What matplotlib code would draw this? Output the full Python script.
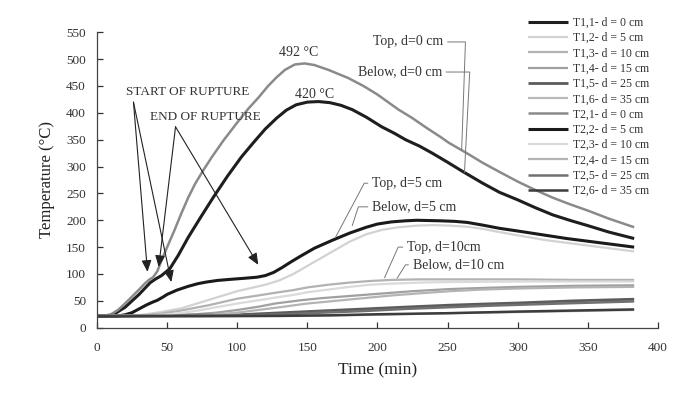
"""Temperature history at depth d below the top and bottom surfaces during the fire test."""

import matplotlib
matplotlib.use("Agg")
import matplotlib.pyplot as plt

plt.rcParams["font.family"] = ["Liberation Serif", "DejaVu Serif"]

# --- data (time in min, temperature in degC) ---
t_top0 = [0, 5, 10, 15, 20, 25, 30, 34, 37, 40, 43, 46, 50, 55, 60, 65, 70, 76, 82, 90,
          100, 108, 115, 122, 128, 134, 141, 148, 155, 165, 179, 190, 200, 215, 225, 235,
          245, 251, 263, 275, 287, 300, 312, 325, 337, 350, 365, 383]
T_top0 = [22, 22, 25, 33, 45, 58, 71, 82, 89, 94, 105, 125, 150, 180, 212, 242, 268, 294, 318, 348,
          382, 408, 428, 450, 466, 480, 490, 492, 489, 480, 465, 450, 434, 406, 390, 372,
          355, 344, 326, 307, 290, 272, 257, 242, 230, 218, 203, 187]

t_bot0 = [0, 8, 12, 20, 30, 38, 42, 46, 52, 58, 65, 74, 83, 93, 103, 112, 120, 128, 135,
          142, 150, 158, 166, 174, 182, 192, 203, 212, 220, 230, 239, 250, 260, 275, 287,
          300, 312, 325, 337, 350, 365, 383]
T_bot0 = [22, 22, 25, 38, 62, 84, 91, 97, 110, 135, 168, 206, 243, 282, 318, 346, 370, 390, 405,
          415, 420, 421, 419, 414, 406, 392, 374, 362, 350, 338, 325, 308, 292, 269, 252,
          238, 224, 210, 200, 190, 178, 166]

t_top5 = [0, 15, 20, 25, 30, 35, 40, 43, 47, 50, 57, 65, 72, 78, 86, 95, 105, 114, 120, 126,
          132, 138, 145, 155, 168, 180, 192, 200, 210, 220, 228, 245, 255, 264, 275, 287,
          300, 320, 335, 350, 365, 383]
T_top5 = [22, 22, 24, 28, 35, 42, 48, 51, 57, 62, 70, 77, 82, 85, 88, 90, 92, 94, 97, 103,
          112, 122, 133, 148, 163, 176, 187, 193, 197, 199, 200, 199, 198, 196, 191, 185,
          180, 172, 166, 161, 156, 150]

t_bot5 = [0, 25, 35, 45, 60, 70, 80, 90, 100, 110, 120, 130, 140, 150, 160, 170, 180, 192,
          203, 215, 228, 240, 252, 264, 275, 287, 300, 320, 335, 350, 365, 383]
T_bot5 = [22, 22, 25, 29, 36, 44, 52, 60, 68, 74, 80, 88, 100, 115, 130, 145, 160, 174,
          182, 187, 190, 191, 190, 188, 184, 178, 172, 163, 158, 153, 148, 142]

t_top10 = [0, 30, 45, 60, 80, 100, 115, 127, 140, 150, 165, 180, 195, 210, 230, 250, 300, 340, 383]
T_top10 = [22, 22, 26, 32, 42, 54, 60, 65, 70, 75, 80, 84, 87, 89, 90, 90, 90, 89, 89]

t_bot10 = [0, 40, 55, 70, 85, 100, 115, 127, 140, 150, 165, 180, 195, 210, 230, 250, 300, 383]
T_bot10 = [22, 23, 26, 31, 38, 45, 51, 56, 61, 66, 71, 76, 80, 82, 84, 85, 86, 86]

t_a15 = [0, 50, 70, 85, 100, 115, 127, 145, 160, 180, 200, 225, 252, 275, 300, 340, 383]
T_a15 = [22, 23, 25, 28, 33, 39, 45, 51, 55, 59, 63, 68, 72, 74, 76, 78, 79]

t_b15 = [0, 60, 80, 100, 115, 130, 150, 170, 190, 210, 230, 252, 275, 300, 340, 383]
T_b15 = [22, 22, 24, 28, 33, 38, 45, 50, 55, 60, 64, 68, 71, 73, 75, 76]

t_a25 = [0, 100, 125, 150, 175, 200, 225, 252, 275, 300, 340, 383]
T_a25 = [22, 24, 27, 30, 33, 36, 39, 42, 44, 46, 50, 53]

t_b25 = [0, 110, 135, 160, 190, 220, 250, 280, 330, 383]
T_b25 = [22, 23, 25, 28, 31, 35, 38, 41, 45, 49]

t_a35 = [0, 150, 200, 250, 300, 383]
T_a35 = [20, 22, 24, 27, 29, 33]

t_b35 = [0, 130, 165, 200, 250, 300, 383]
T_b35 = [21, 22, 23, 25, 27, 30, 34]

series = [
    ("T1,1- d = 0 cm", t_bot0, T_bot0, "#1e1e1e", 2.2),
    ("T1,2- d = 5 cm", t_bot5, T_bot5, "#d2d2d2", 1.6),
    ("T1,3- d = 10 cm", t_top10, T_top10, "#b2b2b2", 1.6),
    ("T1,4- d = 15 cm", t_a15, T_a15, "#a0a0a0", 1.6),
    ("T1,5- d = 25 cm", t_a25, T_a25, "#5c5c5c", 2.0),
    ("T1,6- d = 35 cm", t_a35, T_a35, "#bababa", 1.6),
    ("T2,1- d = 0 cm", t_top0, T_top0, "#8a8a8a", 1.8),
    ("T2,2- d = 5 cm", t_top5, T_top5, "#1a1a1a", 2.2),
    ("T2,3- d = 10 cm", t_bot10, T_bot10, "#dadada", 1.6),
    ("T2,4- d = 15 cm", t_b15, T_b15, "#b4b4b4", 1.6),
    ("T2,5- d = 25 cm", t_b25, T_b25, "#707070", 1.8),
    ("T2,6- d = 35 cm", t_b35, T_b35, "#3c3c3c", 1.8),
]

fig = plt.figure(figsize=(6.84, 3.99), dpi=100)
ax = fig.add_axes([0.1418, 0.1787, 0.8202, 0.7404])

handles = []
for label, t, T, color, lw in series:
    (h,) = ax.plot(t, T, color=color, linewidth=lw, label=label,
                   solid_capstyle="butt", solid_joinstyle="round")
    handles.append(h)

ax.set_xlim(0, 400)
ax.set_ylim(0, 550)
ax.set_xticks(range(0, 401, 50))
ax.set_yticks(range(0, 551, 50))
ax.tick_params(direction="in", length=4, width=0.9, labelsize=9.5, colors="#333333")
ax.tick_params(axis="x", pad=10)
ax.tick_params(axis="y", pad=8)
for side in ("top", "right"):
    ax.spines[side].set_visible(False)
for side in ("left", "bottom"):
    ax.spines[side].set_color("#444444")
    ax.spines[side].set_linewidth(0.9)

ax.set_xlabel("Time (min)", fontsize=12.5, color="#222222", labelpad=6)
ax.set_ylabel("Temperature (°C)", fontsize=12, color="#222222", labelpad=8)

# peak values
ax.text(144, 513, "492 °C", fontsize=10, ha="center", va="center", color="#333333")
ax.text(155, 435, "420 °C", fontsize=10, ha="center", va="center", color="#333333")

# rupture arrows
arrow = dict(arrowstyle="-|>,head_length=0.7,head_width=0.3", color="#222222", lw=0.8,
             shrinkA=0, shrinkB=0)
ax.text(65, 439, "START OF RUPTURE", fontsize=9.5, ha="center", va="center", color="#333333")
ax.text(77, 392, "END OF RUPTURE", fontsize=9.5, ha="center", va="center", color="#333333")
for tip in [(36, 104), (53, 85)]:
    ax.annotate("", xy=tip, xytext=(26, 420), arrowprops=arrow)
for tip in [(44, 113), (115, 117)]:
    ax.annotate("", xy=tip, xytext=(56, 374), arrowprops=arrow)

# leader labels
lead = dict(arrowstyle="-", color="#777777", lw=0.7, shrinkA=1, shrinkB=0)
labels_right = [
    ("Top, d=0 cm", (247, 532), (260, 330), 88),
    ("Below, d=0 cm", (246, 476), (262, 289), 87),
]
for text, xyt, xy, ang in labels_right:
    ax.annotate(text, xy=xy, xytext=xyt, fontsize=10, ha="right", va="center", color="#333333",
                arrowprops=dict(lead, connectionstyle=f"angle,angleA=0,angleB={ang},rad=0",
                                relpos=(1, 0.5)))

labels_left = [
    ("Top, d=5 cm", (196, 269), (170, 168), 62),
    ("Below, d=5 cm", (196, 225), (182, 190), 72),
    ("Top, d=10cm", (221, 150), (205, 93), 66),
    ("Below, d=10 cm", (225, 117), (214, 92), 58),
]
for text, xyt, xy, ang in labels_left:
    ax.annotate(text, xy=xy, xytext=xyt, fontsize=10, ha="left", va="center", color="#333333",
                arrowprops=dict(lead, connectionstyle=f"angle,angleA=180,angleB={ang},rad=0",
                                relpos=(0, 0.5)))

fig.legend(handles=handles, loc="upper left", bbox_to_anchor=(0.772, 0.958), frameon=False,
           fontsize=8.5, handlelength=3.4, handletextpad=0.4, labelspacing=0.28, borderpad=0,
           borderaxespad=0, labelcolor="#333333")

fig.savefig("out.png", dpi=100)
plt.close(fig)
